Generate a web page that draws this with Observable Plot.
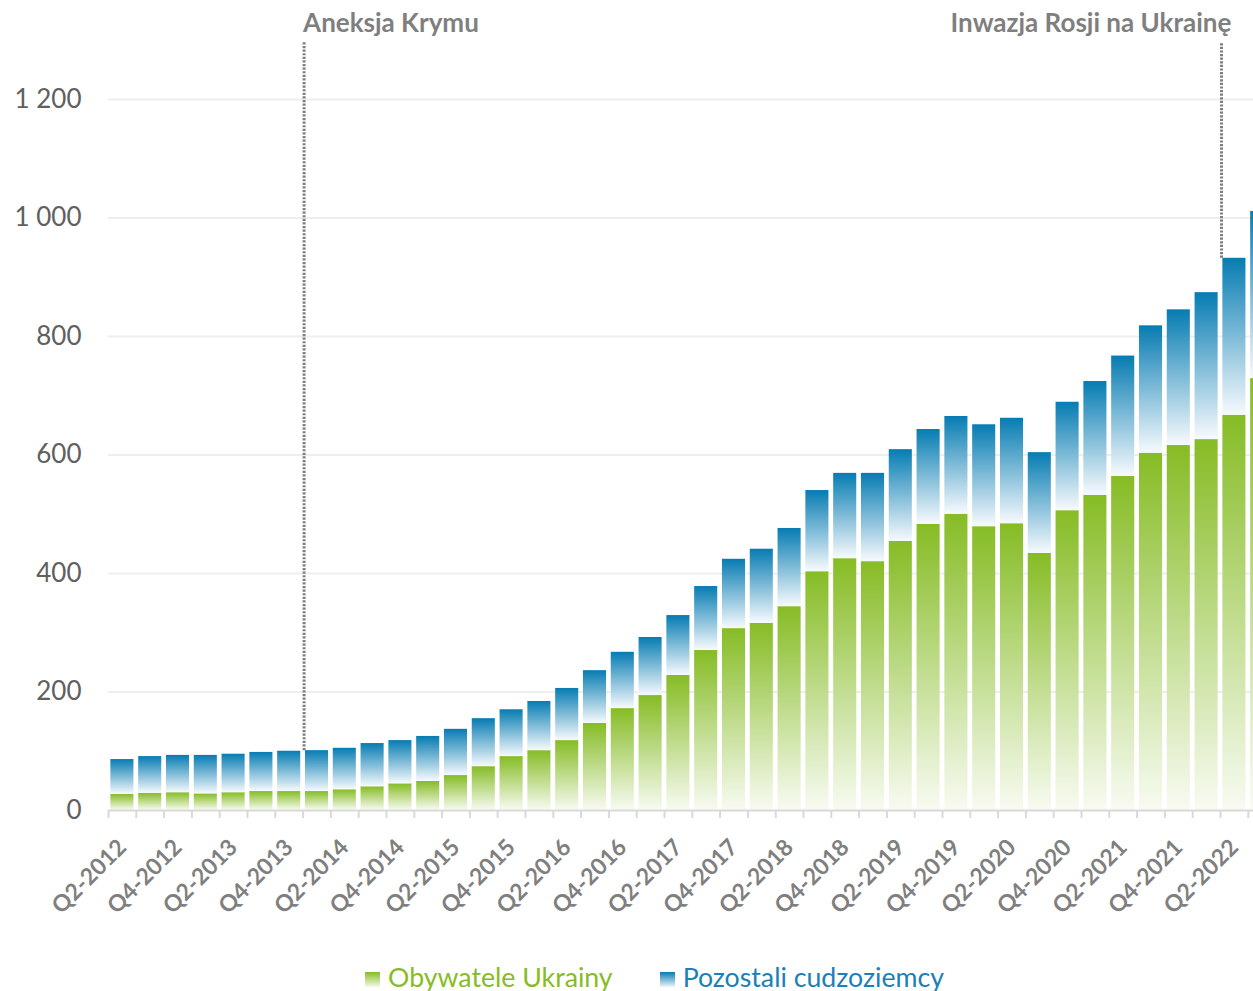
<!DOCTYPE html>
<html>
<head>
<meta charset="utf-8">
<script src="https://cdn.jsdelivr.net/npm/d3@7"></script>
<script src="https://cdn.jsdelivr.net/npm/@observablehq/plot@0.6"></script>
<style>
  html, body { margin: 0; padding: 0; background: #ffffff; }
  body { width: 1253px; height: 991px; overflow: hidden; font-family: Lato, "Open Sans", sans-serif; }
  #chart svg { display: block; }
  .legend { display: flex; justify-content: center; gap: 47px; padding-left: 56px; padding-top: 6px; height: 39px; align-items: center; font-size: 26.7px; line-height: 1; }
  .legend .item { display: flex; align-items: center; gap: 8px; }
  .legend .sw { width: 15px; height: 15px; display: inline-block; margin-top: 4px; }
</style>
</head>
<body>
<div id="chart"></div>
<div class="legend" id="legend"></div>
<script>
// ---- data (thousands) ----
const quarters = [
  "Q2-2012","Q3-2012","Q4-2012","Q1-2013","Q2-2013","Q3-2013","Q4-2013",
  "Q1-2014","Q2-2014","Q3-2014","Q4-2014","Q1-2015","Q2-2015","Q3-2015","Q4-2015",
  "Q1-2016","Q2-2016","Q3-2016","Q4-2016","Q1-2017","Q2-2017","Q3-2017","Q4-2017",
  "Q1-2018","Q2-2018","Q3-2018","Q4-2018","Q1-2019","Q2-2019","Q3-2019","Q4-2019",
  "Q1-2020","Q2-2020","Q3-2020","Q4-2020","Q1-2021","Q2-2021","Q3-2021","Q4-2021",
  "Q1-2022","Q2-2022","Q3-2022"
];
const ukraine = [
  27, 29, 30, 28, 30, 32, 32,
  32, 35, 40, 45, 49, 59, 74, 91,
  101, 118, 147, 172, 194, 228, 270, 307,
  316, 344, 403, 425, 420, 454, 483, 500,
  479, 484, 434, 506, 532, 564, 603, 616,
  626, 667, 729
];
const pozostali = [
  59, 62, 63, 65, 65, 66, 68,
  69, 70, 73, 73, 76, 78, 81, 79,
  83, 88, 89, 95, 98, 101, 108, 117,
  125, 132, 137, 144, 149, 155, 160, 165,
  172, 178, 170, 183, 192, 203, 215, 229,
  248, 265, 282
];
const yTicks = [200, 400, 600, 800, 1000, 1200];
const yLabels = [0, 200, 400, 600, 800, 1000, 1200];
const labelQuarters = quarters.filter((d, i) => i % 2 === 0);
const seriesNames = ["Obywatele Ukrainy", "Pozostali cudzoziemcy"];
const events = [
  { quarter: "Q1-2014", label: "Aneksja Krymu", top: 1296, labelY: 1328 },
  { quarter: "Q2-2022", label: "Inwazja Rosji na Ukrainę", top: 1296, labelY: 1328 }
];

// ---- table built from the arrays ----
const rows = quarters.map((q, i) => ({
  quarter: q,
  ukr: ukraine[i],
  total: ukraine[i] + pozostali[i]
}));
events.forEach(e => { e.bottom = rows.find(r => r.quarter === e.quarter).total; });

// ---- layout ----
const W = 1253, H = 952;
const xRange = [108, 1275.6];
const step = (xRange[1] - xRange[0]) / quarters.length;
const grey = "#7f7f7f";
const fmt = d => d3.format(",")(d).replace(/,/g, " ");

const chart = Plot.plot({
  width: W,
  height: H,
  marginLeft: 108,
  marginRight: 0,
  marginTop: 99,
  marginBottom: H - 810,
  style: { fontFamily: "Lato, 'Open Sans', sans-serif", background: "#ffffff" },
  x: { domain: quarters, range: xRange, paddingInner: 0.17, paddingOuter: 0.085, align: 0.5, label: null },
  y: { domain: [0, 1200], label: null },
  marks: [
    Plot.gridY(yTicks, { stroke: "#eeeeee", strokeOpacity: 1, strokeWidth: 2 }),
    Plot.axisY(yLabels, { tickSize: 0, tickPadding: 27, tickFormat: fmt, fontSize: 26, fill: "#606060", label: null }),
    Plot.barY(rows, { x: "quarter", y1: 0, y2: "ukr", fill: "url(#gGreen)" }),
    Plot.barY(rows, { x: "quarter", y1: "ukr", y2: "total", fill: "url(#gBlue)" }),
    Plot.ruleY([0], { stroke: "#d9d9d9", strokeWidth: 2 }),
    Plot.axisX({ ticks: quarters, tickSize: 8, tickFormat: () => "", dx: -step / 2, stroke: "#d9d9d9", strokeWidth: 2, label: null }),
    Plot.axisX({ ticks: labelQuarters, tickSize: 0, tickPadding: 33, tickRotate: -45, fontSize: 23, fontWeight: "bold", fill: grey, label: null }),
    Plot.ruleX(events, { x: "quarter", y1: "bottom", y2: "top", dx: -step / 2 + 1, stroke: grey, strokeWidth: 3, strokeDasharray: "2.2,1.4" }),
    Plot.text([events[0]], { x: "quarter", y: "labelY", text: "label", textAnchor: "start", dx: -step / 2, fontSize: 26, fontWeight: "bold", fill: grey }),
    Plot.text([events[1]], { x: "quarter", y: "labelY", text: "label", textAnchor: "end", dx: -3, fontSize: 26, fontWeight: "bold", fill: grey })
  ]
});

// gradient definitions (per-bar, top saturated -> bottom near white)
const defs = d3.select(chart).insert("defs", ":first-child");
const g1 = defs.append("linearGradient").attr("id", "gGreen").attr("x1", 0).attr("y1", 0).attr("x2", 0).attr("y2", 1);
g1.append("stop").attr("offset", "0%").attr("stop-color", "#86bc25");
g1.append("stop").attr("offset", "100%").attr("stop-color", "#f8fbf2");
const g2 = defs.append("linearGradient").attr("id", "gBlue").attr("x1", 0).attr("y1", 0).attr("x2", 0).attr("y2", 1);
g2.append("stop").attr("offset", "0%").attr("stop-color", "#067cb2");
g2.append("stop").attr("offset", "100%").attr("stop-color", "#f7fafd");

document.getElementById("chart").appendChild(chart);

// legend
const legendColors = [
  { text: "#86bc25", sw: "linear-gradient(#86bc25, #f4f9ea)" },
  { text: "#1a80b6", sw: "linear-gradient(#067cb2, #eef5fa)" }
];
const lg = d3.select("#legend");
seriesNames.forEach((name, i) => {
  const it = lg.append("div").attr("class", "item");
  it.append("span").attr("class", "sw").style("background", legendColors[i].sw);
  it.append("span").style("color", legendColors[i].text).text(name);
});
</script>
</body>
</html>
